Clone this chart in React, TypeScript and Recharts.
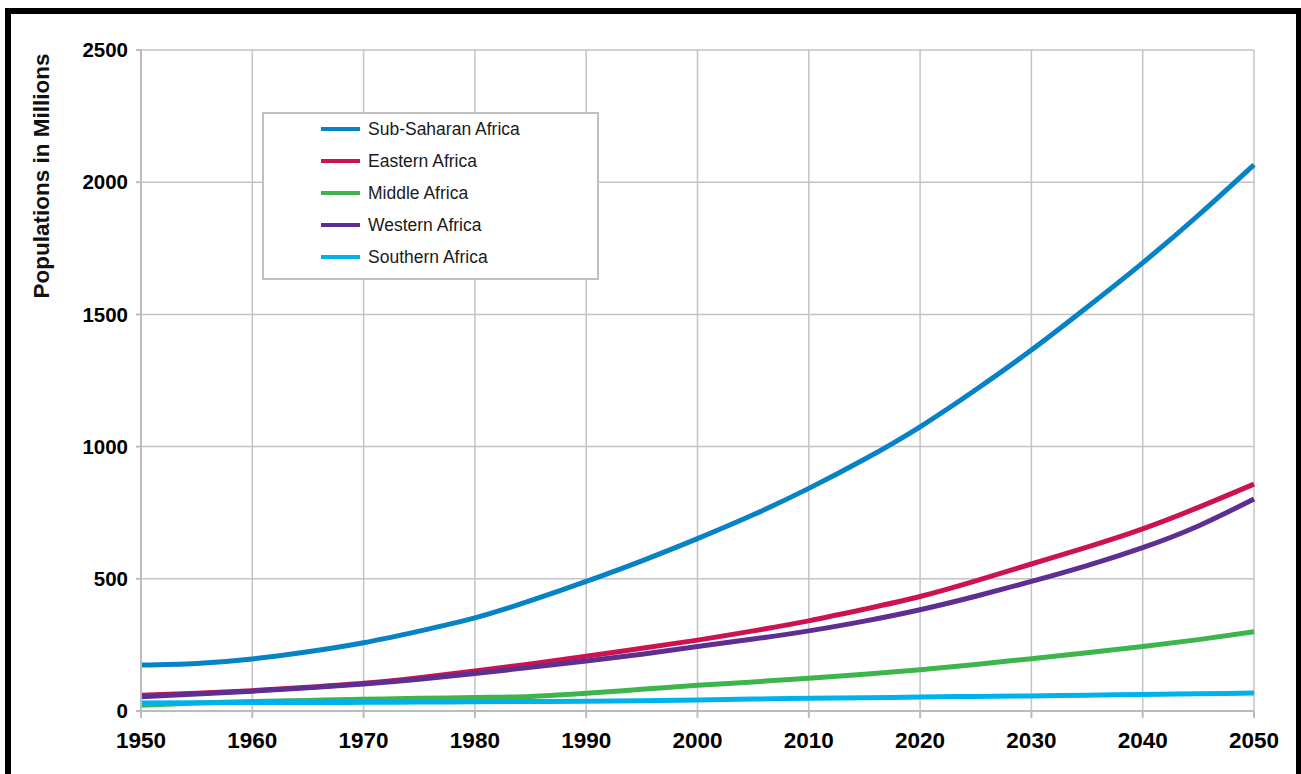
import React from 'react';
import { LineChart, Line, XAxis, YAxis, CartesianGrid, Legend } from 'recharts';

const years = [1950, 1955, 1960, 1965, 1970, 1975, 1980, 1985, 1990, 1995, 2000, 2005, 2010, 2015, 2020, 2025, 2030, 2035, 2040, 2045, 2050];
const subSaharan = [174, 180, 197, 224, 258, 302, 352, 417, 490, 568, 652, 742, 842, 952, 1075, 1215, 1365, 1527, 1695, 1875, 2066];
const eastern = [60, 67, 77, 90, 105, 126, 151, 178, 207, 237, 268, 303, 341, 385, 433, 492, 556, 620, 689, 770, 858];
const middle = [22, 30, 36, 40, 44, 48, 51, 55, 67, 82, 97, 110, 124, 139, 156, 176, 198, 220, 244, 270, 300];
const western = [54, 64, 75, 88, 102, 120, 142, 165, 189, 215, 244, 272, 303, 340, 383, 434, 490, 550, 618, 700, 802];
const southern = [30, 31, 32, 32, 33, 34, 35, 36, 37, 39, 42, 45, 48, 50, 53, 55, 57, 60, 62, 65, 68];

const xTicks = [1950, 1960, 1970, 1980, 1990, 2000, 2010, 2020, 2030, 2040, 2050];
const yTicks = [0, 500, 1000, 1500, 2000, 2500];

const seriesNames = ['Sub-Saharan Africa', 'Eastern Africa', 'Middle Africa', 'Western Africa', 'Southern Africa'];
const seriesKeys = ['subSaharan', 'eastern', 'middle', 'western', 'southern'];
const seriesColors = ['#0682c6', '#cc1350', '#3db54c', '#5e2f92', '#00b2ec'];
const seriesCurves = ['natural', 'natural', 'monotone', 'natural', 'monotone'];
const seriesValues = [subSaharan, eastern, middle, western, southern];

const data = years.map((year, i) => {
  const row: Record<string, number> = { year };
  seriesKeys.forEach((k, j) => {
    row[k] = seriesValues[j][i];
  });
  return row;
});

const FONT = '"Liberation Sans", Arial, Helvetica, sans-serif';

const renderLegend = () => (
  <div
    style={{
      width: 337,
      height: 168,
      boxSizing: 'border-box',
      border: '2px solid #bfbfbf',
      background: '#fff',
      position: 'relative',
      fontFamily: FONT,
    }}
  >
    {seriesNames.map((name, i) => (
      <div
        key={name}
        style={{
          position: 'absolute',
          left: 57,
          top: 3 + i * 32,
          height: 24,
          display: 'flex',
          alignItems: 'center',
        }}
      >
        <div style={{ width: 39, height: 4, background: seriesColors[i], marginRight: 8 }} />
        <span style={{ fontSize: 17.5, color: '#1a1a1a', whiteSpace: 'nowrap' }}>{name}</span>
      </div>
    ))}
  </div>
);

const renderYTitle = () => (
  <text
    x={49}
    y={176}
    transform="rotate(-90, 49, 176)"
    textAnchor="middle"
    fontFamily={FONT}
    fontWeight="bold"
    fontSize={22.5}
    fill="#111"
  >
    Populations in Millions
  </text>
);

export default function App() {
  return (
    <div
      style={{
        position: 'absolute',
        left: 0,
        top: 0,
        width: 1301,
        height: 774,
        overflow: 'hidden',
        background: '#fff',
      }}
    >
      <div
        style={{
          position: 'absolute',
          left: 5,
          top: 8,
          width: 1297,
          height: 790,
          boxSizing: 'border-box',
          border: '6px solid #000',
        }}
      />
      <div style={{ position: 'absolute', left: 0, top: 0 }}>
        <LineChart
          width={1301}
          height={774}
          data={data}
          margin={{ top: 50, right: 47, bottom: 0, left: 0 }}
        >
          <CartesianGrid stroke="#c4c4c4" strokeWidth={1.5} />
          <XAxis
            dataKey="year"
            type="number"
            domain={[1950, 2050]}
            ticks={xTicks}
            interval={0}
            height={63}
            stroke="#bcbcbc"
            strokeWidth={2}
            tickSize={7}
            tickMargin={14}
            tick={{ fill: '#000', fontSize: 22.5, fontWeight: 'bold', fontFamily: FONT }}
          />
          <YAxis
            type="number"
            domain={[0, 2500]}
            ticks={yTicks}
            interval={0}
            width={141}
            stroke="#bcbcbc"
            strokeWidth={2}
            tickSize={5}
            tickMargin={8}
            tick={{ fill: '#000', fontSize: 20.5, fontWeight: 'bold', fontFamily: FONT }}
            label={renderYTitle}
          />
          <Legend
            layout="vertical"
            align="center"
            verticalAlign="middle"
            content={renderLegend}
            wrapperStyle={{ position: 'absolute', left: 262, top: 112, width: 337, height: 168 }}
          />
          {seriesKeys.map((k, i) => (
            <Line
              key={k}
              type={seriesCurves[i] as any}
              dataKey={k}
              name={seriesNames[i]}
              stroke={seriesColors[i]}
              strokeWidth={5}
              dot={false}
              activeDot={false}
              isAnimationActive={false}
            />
          ))}
        </LineChart>
      </div>
    </div>
  );
}
